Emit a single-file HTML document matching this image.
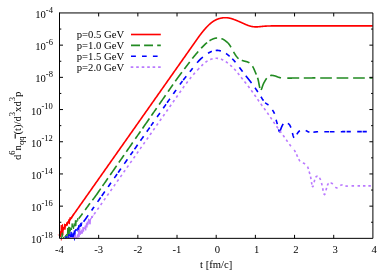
<!DOCTYPE html>
<html><head><meta charset="utf-8"><title>plot</title>
<style>html,body{margin:0;padding:0;background:#fff;}body{width:389px;height:273px;overflow:hidden;position:relative;font-family:"Liberation Serif",serif;}</style></head>
<body>
<svg width="389" height="273" viewBox="0 0 389 273" style="position:absolute;left:0;top:0">
<defs><clipPath id="c"><rect x="58.3" y="0" width="314.6" height="239.95"/></clipPath></defs>
<g clip-path="url(#c)" fill="none" stroke-width="1.62" stroke-linejoin="round">
<g stroke="#ff0000">
<path stroke-width="1.0" stroke-linejoin="miter" d="M59.62,235.45L60.21,231.23L60.64,236.93L61.25,225.11L61.92,235.27L62.47,224.36L62.79,235.29L63.36,227.07L63.87,229.11L64.53,223.82L64.96,229.69L65.64,224.12L66.24,226.05L66.68,222.52L67.35,225.45L67.88,221.53L68.26,223.29L68.97,219.35L69.43,224.15L70.02,217.48L70.54,219.79L71.21,217.11L71.68,218.49L72.15,216.06L72.81,216.07L73.43,214.01L73.84,214.3"/>
<path d="M60.6,232.99L61.1,232.28L61.6,231.57L62.1,230.86L62.6,230.15L63.1,229.44L63.6,228.73L64.1,228.02L64.6,227.31L65.1,226.6L65.6,225.89L66.1,225.18L66.6,224.47L67.1,223.76L67.6,223.05L68.1,222.34L68.6,221.63L69.1,220.92L69.6,220.21L70.1,219.5L70.6,218.79L71.1,218.08L71.6,217.37L72.1,216.66L72.6,215.95L73.1,215.24L73.6,214.53L74.1,213.82L74.6,213.11L75.1,212.4L75.6,211.69L76.1,210.98L76.6,210.27L77.1,209.56L77.6,208.85L78.1,208.14L78.6,207.43L79.1,206.72L79.6,206.01L80.1,205.3L80.6,204.59L81.1,203.88L81.6,203.17L82.1,202.46L82.6,201.75L83.1,201.04L83.6,200.33L84.1,199.62L84.6,198.91L85.1,198.2L85.6,197.49L86.1,196.78L86.6,196.07L87.1,195.36L87.6,194.65L88.1,193.94L88.6,193.23L89.1,192.52L89.6,191.81L90.1,191.1L90.6,190.39L91.1,189.68L91.6,188.97L92.1,188.26L92.6,187.55L93.1,186.84L93.6,186.13L94.1,185.42L94.6,184.71L95.1,184L95.6,183.29L96.1,182.58L96.6,181.87L97.1,181.16L97.6,180.45L98.1,179.74L98.6,179.03L99.1,178.32L99.6,177.61L100.1,176.9L100.6,176.19L101.1,175.48L101.6,174.77L102.1,174.06L102.6,173.35L103.1,172.64L103.6,171.93L104.1,171.22L104.6,170.51L105.1,169.8L105.6,169.09L106.1,168.38L106.6,167.67L107.1,166.96L107.6,166.25L108.1,165.54L108.6,164.83L109.1,164.12L109.6,163.41L110.1,162.7L110.6,161.99L111.1,161.28L111.6,160.57L112.1,159.86L112.6,159.15L113.1,158.44L113.6,157.73L114.1,157.02L114.6,156.31L115.1,155.6L115.6,154.89L116.1,154.18L116.6,153.47L117.1,152.76L117.6,152.05L118.1,151.34L118.6,150.63L119.1,149.92L119.6,149.21L120.1,148.5L120.6,147.79L121.1,147.08L121.6,146.37L122.1,145.66L122.6,144.95L123.1,144.24L123.6,143.53L124.1,142.82L124.6,142.11L125.1,141.4L125.6,140.69L126.1,139.98L126.6,139.27L127.1,138.56L127.6,137.85L128.1,137.14L128.6,136.43L129.1,135.72L129.6,135.01L130.1,134.3L130.6,133.59L131.1,132.88L131.6,132.17L132.1,131.46L132.6,130.75L133.1,130.04L133.6,129.33L134.1,128.62L134.6,127.91L135.1,127.2L135.6,126.49L136.1,125.78L136.6,125.07L137.1,124.36L137.6,123.65L138.1,122.94L138.6,122.23L139.1,121.52L139.6,120.81L140.1,120.1L140.6,119.39L141.1,118.68L141.6,117.97L142.1,117.26L142.6,116.55L143.1,115.84L143.6,115.13L144.1,114.42L144.6,113.71L145.1,113L145.6,112.29L146.1,111.58L146.6,110.87L147.1,110.16L147.6,109.45L148.1,108.74L148.6,108.03L149.1,107.32L149.6,106.61L150.1,105.9L150.6,105.19L151.1,104.48L151.6,103.77L152.1,103.06L152.6,102.35L153.1,101.64L153.6,100.93L154.1,100.22L154.6,99.51L155.1,98.8L155.6,98.09L156.1,97.38L156.6,96.67L157.1,95.96L157.6,95.25L158.1,94.54L158.6,93.83L159.1,93.12L159.6,92.41L160.1,91.7L160.6,90.99L161.1,90.28L161.6,89.57L162.1,88.86L162.6,88.15L163.1,87.44L163.6,86.73L164.1,86.02L164.6,85.31L165.1,84.6L165.6,83.89L166.1,83.18L166.6,82.47L167.1,81.76L167.6,81.05L168.1,80.34L168.6,79.63L169.1,78.92L169.6,78.21L170.1,77.5L170.6,76.79L171.1,76.08L171.6,75.37L172.1,74.66L172.6,73.95L173.1,73.24L173.6,72.53L174.1,71.82L174.6,71.11L175.1,70.4L175.6,69.69L176.1,68.98L176.6,68.27L177.1,67.56L177.6,66.85L178.1,66.14L178.6,65.43L179.1,64.72L179.6,64.01L180.1,63.3L180.6,62.59L181.1,61.88L181.6,61.17L182.1,60.46L182.6,59.75L183.1,59.04L183.6,58.33L184.1,57.62L184.6,56.91L185.1,56.2L185.6,55.49L186.1,54.78L186.6,54.07L187.1,53.36L187.6,52.65L188.1,51.94L188.6,51.23L189.1,50.52L189.6,49.81L190,49.24L190.25,48.89L190.5,48.53L190.75,48.18L191,47.82L191.25,47.47L191.5,47.11L191.75,46.76L192,46.4L192.25,46.05L192.5,45.69L192.75,45.34L193,44.98L193.25,44.63L193.5,44.27L193.75,43.92L194,43.56L194.25,43.21L194.5,42.85L194.75,42.5L195,42.14L195.25,41.79L195.5,41.43L195.75,41.08L196,40.72L196.25,40.37L196.5,40.01L196.75,39.65L197,39.3L197.25,38.95L197.5,38.59L197.75,38.24L198,37.89L198.25,37.54L198.5,37.19L198.75,36.84L199,36.5L199.25,36.15L199.5,35.81L199.75,35.47L200,35.13L200.25,34.8L200.5,34.47L200.75,34.14L201,33.81L201.25,33.49L201.5,33.17L201.75,32.85L202,32.53L202.25,32.22L202.5,31.91L202.75,31.6L203,31.29L203.25,30.99L203.5,30.69L203.75,30.39L204,30.1L204.25,29.8L204.5,29.51L204.75,29.23L205,28.94L205.25,28.66L205.5,28.38L205.75,28.1L206,27.82L206.25,27.55L206.5,27.28L206.75,27.01L207,26.75L207.25,26.49L207.5,26.23L207.75,25.97L208,25.72L208.25,25.48L208.5,25.23L208.75,24.99L209,24.75L209.25,24.52L209.5,24.29L209.75,24.07L210,23.85L210.25,23.63L210.5,23.42L210.75,23.21L211,23L211.25,22.8L211.5,22.61L211.75,22.42L212,22.23L212.25,22.05L212.5,21.87L212.75,21.69L213,21.52L213.25,21.36L213.5,21.2L213.75,21.04L214,20.89L214.25,20.74L214.5,20.59L214.75,20.45L215,20.31L215.25,20.18L215.5,20.05L215.75,19.93L216,19.8L216.25,19.69L216.5,19.57L216.75,19.46L217,19.36L217.25,19.26L217.5,19.16L217.75,19.06L218,18.97L218.25,18.89L218.5,18.8L218.75,18.72L219,18.64L219.25,18.57L219.5,18.5L219.75,18.43L220,18.37L220.25,18.3L220.5,18.24L220.75,18.19L221,18.14L221.25,18.09L221.5,18.04L221.75,17.99L222,17.95L222.25,17.92L222.5,17.88L222.75,17.85L223,17.82L223.25,17.79L223.5,17.77L223.75,17.75L224,17.73L224.25,17.72L224.5,17.71L224.75,17.7L225,17.69L225.25,17.69L225.5,17.69L225.75,17.7L226,17.71L226.25,17.72L226.5,17.73L226.75,17.75L227,17.77L227.25,17.79L227.5,17.82L227.75,17.85L228,17.88L228.25,17.92L228.5,17.96L228.75,18L229,18.04L229.25,18.09L229.5,18.14L229.75,18.19L230,18.25L230.25,18.31L230.5,18.37L230.75,18.43L231,18.5L231.25,18.57L231.5,18.64L231.75,18.72L232,18.79L232.25,18.87L232.5,18.95L232.75,19.04L233,19.12L233.25,19.21L233.5,19.3L233.75,19.39L234,19.48L234.25,19.58L234.5,19.67L234.75,19.77L235,19.86L235.25,19.96L235.5,20.06L235.75,20.16L236,20.26L236.25,20.36L236.5,20.46L236.75,20.56L237,20.66L237.25,20.77L237.5,20.87L237.75,20.97L238,21.08L238.25,21.18L238.5,21.29L238.75,21.39L239,21.5L239.25,21.6L239.5,21.71L239.75,21.82L240,21.93L240.25,22.04L240.5,22.15L240.75,22.26L241,22.37L241.25,22.48L241.5,22.59L241.75,22.7L242,22.82L242.25,22.93L242.5,23.04L242.75,23.16L243,23.27L243.25,23.39L243.5,23.5L243.75,23.61L244,23.73L244.25,23.84L244.5,23.95L244.75,24.06L245,24.17L245.25,24.28L245.5,24.39L245.75,24.5L246,24.61L246.25,24.71L246.5,24.82L246.75,24.92L247,25.02L247.25,25.12L247.5,25.22L247.75,25.31L248,25.41L248.25,25.5L248.5,25.59L248.75,25.67L249,25.76L249.25,25.84L249.5,25.92L249.75,25.99L250,26.06L250.25,26.13L250.5,26.2L250.75,26.26L251,26.32L251.25,26.38L251.5,26.43L251.75,26.48L252,26.53L252.25,26.57L252.5,26.61L252.75,26.64L253,26.68L253.25,26.71L253.5,26.74L253.75,26.76L254,26.78L254.25,26.8L254.5,26.82L254.75,26.83L255,26.85L255.25,26.85L255.5,26.86L255.75,26.86L256,26.87L256.25,26.86L256.5,26.86L256.75,26.86L257,26.85L257.25,26.84L257.5,26.83L257.75,26.82L258,26.8L258.25,26.78L258.5,26.76L258.75,26.74L259,26.72L259.25,26.7L259.5,26.68L259.75,26.65L260,26.63L260.25,26.6L260.5,26.58L260.75,26.55L261,26.52L261.25,26.5L261.5,26.47L261.75,26.44L262,26.42L262.25,26.4L262.5,26.37L262.75,26.35L263,26.32L263.25,26.3L263.5,26.28L263.75,26.26L264,26.24L264.25,26.22L264.5,26.2L264.75,26.18L265,26.16L265.25,26.15L265.5,26.13L265.75,26.11L266,26.1L266.25,26.09L266.5,26.07L266.75,26.06L267,26.05L267.25,26.04L267.5,26.03L267.75,26.02L268,26.01L268.25,26L268.5,25.99L268.75,25.98L269,25.98L269.25,25.97L269.5,25.96L269.75,25.96L270,25.95L270.25,25.94L270.5,25.94L270.75,25.93L271,25.93L271.25,25.93L271.5,25.92L271.75,25.92L272,25.92L272.25,25.91L272.5,25.91L272.75,25.91L273,25.91L273.25,25.9L273.5,25.9L273.75,25.9L274,25.9L274.25,25.9L274.5,25.9L274.75,25.89L275,25.89L275.25,25.89L275.5,25.89L275.75,25.89L276,25.89L276.25,25.89L276.5,25.89L276.75,25.89L277,25.89L277.25,25.89L277.5,25.89L277.75,25.89L278,25.89L278.25,25.9L278.5,25.9L278.75,25.9L279,25.9L279.25,25.9L279.5,25.9L279.75,25.9L280,25.9L280.25,25.9L280.5,25.9L280.75,25.9L281,25.9L281.25,25.9L281.5,25.9L281.75,25.9L282,25.9L282.25,25.9L282.5,25.91L282.75,25.91L283,25.91L283.25,25.91L283.5,25.91L283.75,25.91L284,25.91L284.25,25.91L284.5,25.91L284.75,25.91L285,25.91L285.25,25.91L285.5,25.91L285.75,25.91L286,25.91L286.25,25.91L286.5,25.91L286.75,25.91L287,25.91L287.25,25.91L287.5,25.91L287.75,25.91L288,25.91L288.25,25.91L288.5,25.91L288.75,25.91L289,25.91L289.25,25.91L289.5,25.91L289.75,25.91L290,25.91L290.25,25.91L290.5,25.91L290.75,25.91L291,25.91L291.25,25.91L291.5,25.91L291.75,25.91L292,25.91L292.25,25.91L292.5,25.91L292.75,25.91L293,25.91L293.25,25.91L293.5,25.91L293.75,25.91L294,25.91L294.25,25.91L294.5,25.91L294.75,25.91L295,25.9L295.25,25.9L295.5,25.9L295.75,25.9L296,25.9L296.25,25.9L296.5,25.9L296.75,25.9L297,25.9L297.25,25.9L297.5,25.9L297.75,25.9L298,25.9L298.25,25.9L298.5,25.9L298.75,25.9L299,25.9L299.25,25.9L299.5,25.9L299.75,25.9L300,25.9L300.25,25.9L300.5,25.9L300.75,25.9L301,25.9L301.25,25.9L301.5,25.9L301.75,25.9L302,25.9L302.25,25.9L302.5,25.9L302.75,25.9L303,25.9L303.25,25.9L303.5,25.9L303.75,25.9L304,25.9L304.25,25.9L304.5,25.9L304.75,25.9L305,25.9L305.25,25.9L305.5,25.9L305.75,25.9L306,25.9L306.25,25.9L306.5,25.9L306.75,25.9L307,25.9L307.25,25.9L307.5,25.9L307.75,25.9L308,25.9L308.25,25.9L308.5,25.9L308.75,25.89L309,25.89L309.25,25.89L309.5,25.89L309.75,25.89L310,25.89L310.25,25.89L310.5,25.89L310.75,25.89L311,25.89L311.25,25.89L311.5,25.89L311.75,25.89L312,25.89L312.25,25.89L312.5,25.89L312.75,25.89L313,25.89L313.25,25.89L313.5,25.89L313.75,25.89L314,25.89L314.25,25.89L314.5,25.89L314.75,25.89L315,25.89L315.25,25.89L315.5,25.89L315.75,25.89L316,25.89L316.25,25.89L316.5,25.89L316.75,25.89L317,25.89L317.25,25.89L317.5,25.89L317.75,25.89L318,25.89L318.25,25.89L318.5,25.89L318.75,25.89L319,25.89L319.25,25.89L319.5,25.89L319.75,25.89L320,25.89L320.25,25.89L320.5,25.89L320.75,25.89L321,25.89L321.25,25.89L321.5,25.89L321.75,25.89L322,25.89L322.25,25.89L322.5,25.89L322.75,25.9L323,25.9L323.25,25.9L323.5,25.9L323.75,25.9L324,25.9L324.25,25.9L324.5,25.9L324.75,25.9L325,25.9L325.25,25.9L325.5,25.9L325.75,25.9L326,25.9L326.25,25.9L326.5,25.9L326.75,25.9L327,25.9L327.25,25.9L327.5,25.9L327.75,25.9L328,25.9L328.25,25.9L328.5,25.9L328.75,25.9L329,25.9L329.25,25.9L329.5,25.9L329.75,25.9L330,25.9L330.25,25.9L330.5,25.9L330.75,25.9L331,25.9L331.25,25.9L331.5,25.9L331.75,25.9L332,25.9L332.25,25.9L332.5,25.9L332.75,25.9L333,25.9L333.25,25.9L333.5,25.9L333.75,25.9L334,25.9L334.25,25.9L334.5,25.9L334.75,25.9L335,25.9L335.25,25.9L335.5,25.9L335.75,25.9L336,25.9L336.25,25.9L336.5,25.9L336.75,25.9L337,25.9L337.25,25.9L337.5,25.9L337.75,25.9L338,25.9L338.25,25.9L338.5,25.9L338.75,25.9L339,25.9L339.25,25.9L339.5,25.9L339.75,25.9L340,25.9L340.25,25.9L340.5,25.9L340.75,25.9L341,25.9L341.25,25.9L341.5,25.9L341.75,25.9L342,25.9L342.25,25.9L342.5,25.9L342.75,25.9L343,25.9L343.25,25.9L343.5,25.9L343.75,25.9L344,25.9L344.25,25.9L344.5,25.9L344.75,25.9L345,25.9L345.25,25.9L345.5,25.9L345.75,25.9L346,25.9L346.25,25.9L346.5,25.9L346.75,25.9L347,25.9L347.25,25.9L347.5,25.9L347.75,25.9L348,25.9L348.25,25.9L348.5,25.9L348.75,25.9L349,25.9L349.25,25.9L349.5,25.9L349.75,25.9L350,25.9L350.25,25.9L350.5,25.9L350.75,25.9L351,25.9L351.25,25.9L351.5,25.9L351.75,25.9L352,25.9L352.25,25.9L352.5,25.9L352.75,25.9L353,25.9L353.25,25.9L353.5,25.9L353.75,25.9L354,25.9L354.25,25.9L354.5,25.9L354.75,25.9L355,25.9L355.25,25.9L355.5,25.9L355.75,25.9L356,25.9L356.25,25.9L356.5,25.9L356.75,25.9L357,25.9L357.25,25.9L357.5,25.9L357.75,25.9L358,25.9L358.25,25.9L358.5,25.9L358.75,25.9L359,25.9L359.25,25.9L359.5,25.9L359.75,25.9L360,25.9L360.25,25.9L360.5,25.9L360.75,25.9L361,25.9L361.25,25.9L361.5,25.9L361.75,25.9L362,25.9L362.25,25.9L362.5,25.9L362.75,25.9L363,25.9L363.25,25.9L363.5,25.9L363.75,25.9L364,25.9L364.25,25.9L364.5,25.9L364.75,25.9L365,25.9L365.25,25.9L365.5,25.9L365.75,25.9L366,25.9L366.25,25.9L366.5,25.9L366.75,25.9L367,25.9L367.25,25.9L367.5,25.9L367.75,25.9L368,25.9L368.25,25.9L368.5,25.9L368.75,25.9L369,25.9L369.25,25.9L369.5,25.9L369.75,25.9L370,25.9L370.25,25.9L370.5,25.9L370.75,25.9L371,25.9L371.25,25.9L371.5,25.9L371.75,25.9L372,25.9L372.25,25.9L372.5,25.9L372.75,25.9"/>
</g>
<g stroke="#228b22">
<path stroke-width="1.0" stroke-linejoin="miter" d="M60.4,236.84L60.91,237.51L61.59,237.68L62.22,232.78L62.68,236.7L63.25,237.14L63.65,237.98L64.35,237.05L65.03,236.26L65.56,235.38L66.07,237.2L66.43,234.18L67.22,235.56L67.76,228.01L68.1,237.51L68.79,226.8L69.16,234.35L69.74,227.02L70.34,231.39L70.85,227.99L71.58,229.99L72.15,223.54L72.55,227.25L73.1,225.5L73.58,228.85L74.13,223.53L74.86,226.4L75.38,220.36L75.77,225.99L76.44,220.57L76.97,221.79L77.65,218.37L78.17,220.41"/>
<path d="M78.7,218.68L79.2,218.02L79.7,217.36L80.2,216.7L80.7,216.04L81.2,215.37L81.7,214.7L82.2,214.02L82.6,213.48M85.1,210.03L85.2,209.89L85.7,209.19L86.2,208.5L86.7,207.8L87.2,207.11L87.7,206.41L88.2,205.72L88.7,205.03L89.2,204.35L89.7,203.67L90,203.27M92.45,200.16L92.7,199.85L93.2,199.21L93.7,198.56L94.2,197.88L94.7,197.2L95.2,196.51L95.7,195.82L96.2,195.12L96.7,194.41L97.2,193.7L97.7,192.98L98.2,192.26L98.7,191.54L99.2,190.82L99.7,190.1L100.2,189.38L100.7,188.66M102.5,186.06L102.7,185.78L103.2,185.06L103.7,184.34L104.2,183.62L104.7,182.9L105.2,182.18L105.7,181.46L106.2,180.74L106.7,180.02L107.2,179.3L107.7,178.58L107.9,178.29M110.2,174.98L110.7,174.26L111.2,173.54L111.7,172.82L112.2,172.1L112.7,171.38L113.2,170.66L113.7,169.94L114.2,169.22L114.7,168.5L115.2,167.78L115.7,167.06L116.2,166.34L116.6,165.76M118.8,162.59L119.2,162.02L119.7,161.3L120.2,160.58L120.7,159.86L121.2,159.14L121.7,158.42L122.2,157.7L122.7,156.98L123.2,156.26L123.7,155.54L124,155.1M126.3,151.79L126.7,151.22L127.2,150.5L127.7,149.78L128.2,149.06L128.7,148.34L129.2,147.62L129.7,146.9L130.2,146.18L130.7,145.46L131.2,144.74L131.7,144.02L132.2,143.3L132.7,142.58M135.3,138.83L135.7,138.26L136.2,137.54L136.7,136.82L137.2,136.1L137.7,135.38L138.2,134.66L138.7,133.94L139.2,133.22L139.7,132.5L140.2,131.78L140.5,131.34M142.5,128.46L142.7,128.18L143.2,127.46L143.7,126.74L144.2,126.02L144.7,125.3L145.2,124.58L145.7,123.86L146.2,123.14L146.7,122.42L147.2,121.7L147.7,120.98L148.2,120.26L148.7,119.54L149.2,118.82L149.4,118.53M151.4,115.65L151.7,115.22L152.2,114.5L152.7,113.78L153.2,113.06L153.7,112.34L154.2,111.62L154.7,110.9L155.2,110.18L155.7,109.46L156.2,108.74L156.6,108.16M159.1,104.56L159.2,104.42L159.7,103.7L160.2,102.98L160.7,102.26L161.2,101.54L161.7,100.82L162.2,100.1L162.7,99.38L163.2,98.66L163.7,97.94L164.2,97.22L164.7,96.5L165.2,95.78L165.6,95.2M168.1,91.6L168.2,91.46L168.7,90.74L169.2,90.02L169.7,89.3L170,88.86L170.25,88.5L170.5,88.14L170.75,87.77L171,87.41L171.25,87.05L171.5,86.68L171.75,86.32L172,85.96L172.25,85.59L172.5,85.23L172.75,84.87L173,84.51M175.3,81.21L175.5,80.93L175.75,80.58L176,80.22L176.25,79.87L176.5,79.53L176.75,79.18L177,78.83L177.25,78.49L177.5,78.14L177.75,77.8L178,77.46L178.25,77.12L178.5,76.78L178.75,76.44L179,76.1L179.25,75.77L179.5,75.43L179.75,75.09L180,74.76L180.25,74.43L180.5,74.09L180.75,73.76L181,73.43L181.25,73.1L181.5,72.77L181.75,72.43L181.9,72.24M184.4,68.95L184.5,68.82L184.75,68.49L185,68.16L185.25,67.83L185.5,67.51L185.75,67.18L186,66.85L186.25,66.52L186.5,66.19L186.75,65.86L187,65.53L187.25,65.2L187.5,64.87L187.75,64.54L188,64.21L188.25,63.88L188.5,63.55L188.75,63.22L189,62.89L189.25,62.56L189.5,62.23L189.7,61.96M192.3,58.6L192.5,58.35L192.75,58.03L193,57.72L193.25,57.41L193.5,57.1L193.75,56.8L194,56.49L194.25,56.19L194.5,55.89L194.75,55.59L195,55.29L195.25,54.99L195.5,54.69L195.75,54.4L196,54.1L196.25,53.81L196.5,53.52L196.75,53.23L197,52.94L197.25,52.65L197.5,52.36L197.75,52.08L198,51.79L198.2,51.57M201.2,48.23L201.25,48.18L201.5,47.91L201.75,47.64L202,47.38L202.25,47.11L202.5,46.85L202.75,46.59L203,46.34L203.25,46.08L203.5,45.83L203.75,45.58L204,45.34L204.25,45.09L204.5,44.85L204.75,44.61L205,44.38L205.25,44.15L205.5,43.92L205.75,43.69L206,43.47L206.25,43.25L206.5,43.03L206.75,42.82L207,42.61L207.1,42.53M209.5,40.76L209.75,40.6L210,40.44L210.25,40.29L210.5,40.14L210.75,40L211,39.86L211.25,39.73L211.5,39.61L211.75,39.49L212,39.37L212.25,39.26L212.5,39.15L212.75,39.05L213,38.95L213.25,38.86L213.5,38.77L213.75,38.68L214,38.6L214.25,38.52L214.5,38.45L214.75,38.38L215,38.32L215.25,38.26L215.5,38.21L215.75,38.16L216,38.12L216.25,38.09L216.5,38.06L216.75,38.03L217,38.01L217.1,38.01M221.4,38.63L221.5,38.66L221.75,38.74L222,38.83L222.25,38.92L222.5,39.02L222.75,39.13L223,39.25L223.25,39.37L223.5,39.51L223.75,39.66L224,39.82L224.25,39.98L224.5,40.16L224.75,40.34L225,40.52L225.25,40.71L225.5,40.91L225.75,41.1L226,41.3L226.25,41.5L226.5,41.7L226.75,41.9L227,42.11L227.25,42.33L227.5,42.55L227.75,42.79L228,43.04L228.25,43.3L228.5,43.57L228.75,43.86L229,44.17L229.25,44.5L229.5,44.85L229.75,45.21L230,45.6L230.25,45.99L230.5,46.4L230.75,46.82L231,47.26M233.5,51.78L233.75,52.22L234,52.65L234.25,53.07L234.5,53.49L234.75,53.89L235,54.29L235.25,54.68L235.5,55.05L235.75,55.42L236,55.77L236.25,56.11L236.5,56.44L236.75,56.75L237,57.05L237.25,57.33L237.5,57.6L237.75,57.85L238,58.09L238.25,58.31L238.5,58.52L238.6,58.6M241.8,60.34L242,60.41L242.25,60.5L242.5,60.58L242.75,60.66L243,60.74L243.25,60.82L243.5,60.89L243.75,60.96L244,61.03L244.25,61.09L244.5,61.16L244.75,61.22L245,61.28L245.25,61.34L245.5,61.4L245.75,61.46L246,61.52L246.25,61.58L246.5,61.64L246.75,61.7L247,61.78L247.25,61.85L247.5,61.94L247.75,62.03L248,62.13L248.25,62.25L248.5,62.37L248.75,62.51L249,62.67L249.25,62.84L249.4,62.95M252.5,66.29L252.75,66.67L253,67.07L253.25,67.52L253.5,68L253.75,68.52L254,69.07L254.25,69.64L254.5,70.24L254.75,70.84L255,71.45L255.25,72.06L255.5,72.67L255.75,73.26L256,73.82L256.25,74.38L256.3,74.49M257.6,77.79L257.75,78.27L258,79.19L258.25,80.22L258.5,81.38L258.75,82.67L259,84.02L259.25,85.37L259.5,86.65L259.75,87.81L259.8,88M261,89.89L261.25,89.54L261.5,89.04L261.75,88.41L262,87.69L262.25,86.94L262.5,86.19L262.75,85.48L263,84.83L263.25,84.24L263.5,83.68L263.75,83.17L264,82.68L264.25,82.22L264.5,81.78L264.75,81.34L265,80.91L265.25,80.49L265.5,80.09L265.75,79.69L266,79.3L266.25,78.93L266.5,78.57L266.7,78.3M270.1,75.59L270.25,75.55L270.5,75.5L270.75,75.46L271,75.43L271.25,75.41L271.5,75.4L271.75,75.4L272,75.41L272.25,75.42L272.5,75.44L272.75,75.47L273,75.5L273.25,75.54L273.5,75.58L273.75,75.63L274,75.68L274.25,75.74L274.5,75.8L274.75,75.87L275,75.94L275.25,76.02L275.5,76.1L275.75,76.19L276,76.28L276.25,76.37L276.5,76.47L276.75,76.57L277,76.67L277.25,76.77L277.5,76.87L277.75,76.96L278,77.06L278.25,77.15L278.5,77.23L278.75,77.32L279,77.39L279.25,77.47L279.5,77.53L279.75,77.6L280,77.66L280.25,77.71L280.5,77.76L280.75,77.81L281,77.85M287.3,78.15L287.5,78.15L287.75,78.14L288,78.14L288.25,78.13L288.5,78.13L288.75,78.12L289,78.12L289.25,78.11L289.5,78.11L289.75,78.1L290,78.1L290.25,78.1L290.5,78.09L290.75,78.09L291,78.08L291.25,78.08L291.5,78.07L291.75,78.07L292,78.06L292.25,78.06L292.5,78.06L292.75,78.05L293,78.05L293.25,78.04L293.5,78.04L293.75,78.04L294,78.03L294.25,78.03L294.5,78.03L294.75,78.02L295,78.02L295.25,78.02L295.5,78.02L295.75,78.01L296,78.01L296.25,78.01L296.5,78.01L296.75,78L297,78L297.25,78L297.5,78L297.75,77.99L298,77.99L298.25,77.99L298.5,77.99L298.75,77.98L299,77.98L299.2,77.98M303.8,77.95L304,77.95L304.25,77.95L304.5,77.95L304.75,77.95L305,77.95L305.25,77.95L305.5,77.95L305.75,77.95L306,77.95L306.25,77.95L306.5,77.95L306.75,77.94L307,77.94L307.25,77.94L307.5,77.94L307.75,77.94L308,77.94L308.25,77.94L308.5,77.94L308.75,77.94L309,77.94L309.25,77.94L309.5,77.94L309.75,77.94L310,77.94L310.25,77.94L310.5,77.94L310.75,77.94L311,77.94L311.25,77.94L311.5,77.94L311.75,77.94L312,77.94L312.25,77.94L312.5,77.93L312.75,77.93L313,77.93L313.25,77.93L313.5,77.93L313.75,77.93L314,77.93L314.25,77.93L314.5,77.93L314.75,77.93L315,77.93L315.25,77.93L315.4,77.93M320.2,77.94L320.25,77.94L320.5,77.94L320.75,77.94L321,77.94L321.25,77.94L321.5,77.94L321.75,77.94L322,77.94L322.25,77.94L322.5,77.94L322.75,77.94L323,77.94L323.25,77.94L323.5,77.94L323.75,77.94L324,77.94L324.25,77.94L324.5,77.94L324.75,77.94L325,77.94L325.25,77.94L325.5,77.94L325.75,77.94L326,77.94L326.25,77.94L326.5,77.95L326.75,77.95L327,77.95L327.25,77.95L327.5,77.95L327.75,77.95L328,77.95L328.25,77.95L328.5,77.95L328.75,77.95L329,77.95L329.25,77.95L329.5,77.95L329.75,77.95L330,77.95L330.25,77.95L330.5,77.95L330.75,77.95L331,77.95L331.25,77.95L331.5,77.95L331.75,77.95L331.9,77.95M336.6,77.96L336.75,77.96L337,77.96L337.25,77.96L337.5,77.96L337.75,77.96L338,77.96L338.25,77.96L338.5,77.96L338.75,77.96L339,77.96L339.25,77.96L339.5,77.96L339.75,77.96L340,77.96L340.25,77.96L340.5,77.96L340.75,77.96L341,77.96L341.25,77.96L341.5,77.96L341.75,77.96L342,77.96L342.25,77.96L342.5,77.96L342.75,77.96L343,77.96L343.25,77.96L343.5,77.96L343.75,77.96L344,77.96L344.25,77.96L344.5,77.96L344.75,77.96L345,77.96L345.25,77.96L345.5,77.96L345.75,77.96L346,77.96L346.25,77.96L346.5,77.96L346.75,77.96L347,77.96L347.25,77.96L347.5,77.96L347.75,77.96L348,77.96L348.25,77.96L348.3,77.96M353.1,77.96L353.25,77.96L353.5,77.96L353.75,77.96L354,77.96L354.25,77.96L354.5,77.96L354.75,77.96L355,77.96L355.25,77.96L355.5,77.96L355.75,77.96L356,77.96L356.25,77.96L356.5,77.96L356.75,77.96L357,77.96L357.25,77.96L357.5,77.96L357.75,77.96L358,77.96L358.25,77.96L358.5,77.96L358.75,77.96L359,77.96L359.25,77.96L359.5,77.96L359.75,77.96L360,77.96L360.25,77.96L360.5,77.96L360.75,77.96L361,77.96L361.25,77.96L361.5,77.96L361.75,77.96L362,77.96L362.25,77.96L362.5,77.96L362.75,77.96L363,77.96L363.25,77.96L363.5,77.96L363.75,77.96L364,77.96L364.25,77.96L364.5,77.96L364.75,77.95L364.8,77.95M369.5,77.95L369.75,77.95L370,77.95L370.25,77.95L370.5,77.95L370.75,77.95L371,77.95L371.25,77.95L371.5,77.95L371.75,77.95L372,77.95L372.25,77.95L372.5,77.95L372.75,77.95"/>
</g>
<g stroke="#0000ff">
<path stroke-width="1.0" stroke-linejoin="miter" d="M64.92,237.75L65.66,238.03L66.01,236.45L66.78,237.88L67.2,236.58L67.78,237.32L68.38,237.46L68.86,234.25L69.34,238.02L69.86,234.37L70.37,237.36L71.12,231.9L71.58,237.1L72.05,233.74L72.81,237.86L73.18,232.63L73.77,237.47L74.29,230.51L74.94,235.46L75.47,229.36L76.03,230.96L76.48,229.43L77.04,229.77L77.58,227.74L78.15,231.56L78.64,225.33L79.2,229.27L79.99,224.33L80.54,226.63L80.86,222.92L81.36,226.16L81.96,222.29"/>
<path d="M83.6,221.68L84.1,221.02L84.6,220.36L85.1,219.67L85.6,218.97L86.1,218.26L86.6,217.54L87.1,216.83L87.6,216.12L88.1,215.4L88.2,215.26M91.6,210.41L92.1,209.7L92.6,208.99L93.1,208.27L93.6,207.56L94.1,206.85M97.6,201.86L98.1,201.14L98.6,200.43L99.1,199.72L99.6,199L100.1,198.29L100.6,197.58L100.7,197.44M101.7,196.01L102.1,195.44L102.6,194.73L103.1,194.01L103.6,193.3L104.1,192.59L104.6,191.87L104.8,191.59M108.1,186.88L108.6,186.17L109.1,185.46L109.6,184.74L110.1,184.03L110.6,183.32L111,182.75M114.3,178.04L114.6,177.61L115.1,176.9L115.6,176.19L116.1,175.48L116.6,174.76L117.1,174.05M118.1,172.62L118.6,171.91L119.1,171.2L119.6,170.48L120.1,169.77L120.6,169.06L120.9,168.63M124.3,163.78L124.6,163.35L125.1,162.64L125.6,161.93L126.1,161.22L126.6,160.5L127.1,159.79L127.4,159.36M130.4,155.08L130.6,154.8L131.1,154.09L131.6,153.37L132.1,152.66L132.6,151.95L133,151.38M134.5,149.24L134.6,149.09L135.1,148.38L135.6,147.67L136.1,146.96L136.6,146.24L137.1,145.53L137.6,144.82M140.5,140.68L140.6,140.54L141.1,139.83L141.6,139.11L142.1,138.4L142.6,137.69L143.1,136.97L143.6,136.26M146.8,131.7L147.1,131.27L147.6,130.56L148.1,129.84L148.6,129.13L149.1,128.42L149.6,127.7L149.7,127.56M151,125.71L151.1,125.57L151.6,124.85L152.1,124.14L152.6,123.43L153.1,122.71L153.5,122.14M157.1,117.01L157.6,116.3L158.1,115.58L158.6,114.87L159.1,114.16L159.6,113.44L159.9,113.02M163.2,108.31L163.6,107.74L164.1,107.03L164.6,106.31L165.1,105.6L165.6,104.89L166,104.32M167.1,102.75L167.6,102.04L168.1,101.32L168.6,100.61L169.1,99.9L169.6,99.18L169.9,98.76M173.3,93.91L173.6,93.48L174,92.91L174.25,92.55L174.5,92.19L174.75,91.83L175,91.46L175.25,91.1L175.5,90.74L175.75,90.38L176,90.02L176.05,89.94M179.9,84.49L180,84.35L180.25,84.01L180.5,83.67L180.75,83.34L181,83L181.25,82.67L181.5,82.34L181.75,82.01L182,81.68L182.25,81.36L182.5,81.03M183.2,80.13L183.25,80.07L183.5,79.75L183.75,79.43L184,79.11L184.25,78.79L184.5,78.48L184.75,78.16L185,77.85L185.25,77.54L185.5,77.23L185.75,76.91L186,76.6L186.25,76.29L186.3,76.23M189.9,71.76L190,71.64L190.25,71.32L190.5,71.01L190.75,70.7L191,70.38L191.25,70.06L191.5,69.75L191.75,69.43L192,69.11L192.25,68.79L192.5,68.47L192.7,68.21M197.1,62.74L197.25,62.56L197.5,62.27L197.75,61.99L198,61.71L198.25,61.43L198.5,61.15L198.75,60.88L199,60.62L199.25,60.36L199.5,60.1L199.75,59.85L200,59.6L200.25,59.36L200.5,59.12L200.75,58.89L201,58.66L201.25,58.43L201.5,58.21L201.75,58L202,57.78L202.25,57.57L202.5,57.36L202.75,57.15L202.9,57.03M208,53.28L208.25,53.13L208.5,52.97L208.75,52.82L209,52.68L209.25,52.54L209.5,52.4L209.75,52.28L210,52.15L210.25,52.03L210.5,51.92L210.75,51.81L211,51.71L211.25,51.61L211.5,51.52L211.75,51.43L211.9,51.38M215.7,50.5L215.75,50.49L216,50.46L216.25,50.44L216.5,50.42L216.75,50.41L217,50.4L217.25,50.39L217.5,50.4L217.75,50.41L218,50.42L218.25,50.44L218.5,50.47L218.75,50.5L219,50.54L219.25,50.58L219.5,50.62L219.75,50.68L220,50.73L220.25,50.79L220.5,50.86L220.75,50.93L220.9,50.97M226,53.47L226.25,53.65L226.5,53.83L226.75,54.02L227,54.2L227.25,54.4L227.5,54.59L227.75,54.78L228,54.98L228.25,55.18L228.5,55.37L228.75,55.58L229,55.78L229.25,55.98L229.5,56.19L229.6,56.27M232.3,58.75L232.5,58.95L232.75,59.21L233,59.47L233.25,59.74L233.5,60.01L233.75,60.28L234,60.56L234.25,60.84L234.5,61.13L234.75,61.42L235,61.72L235.25,62.02L235.5,62.32M239.4,67.37L239.5,67.5L239.75,67.83L240,68.17L240.25,68.5L240.5,68.83L240.75,69.17L241,69.5L241.25,69.83L241.5,70.16L241.75,70.49L242,70.83L242.25,71.16L242.5,71.49L242.6,71.62M245.8,75.77L246,76.03L246.25,76.34L246.5,76.66L246.75,76.97L247,77.29L247.25,77.6L247.5,77.91L247.75,78.22L248,78.54L248.25,78.85L248.5,79.16L248.75,79.47L249,79.79L249.25,80.1L249.5,80.41L249.75,80.73L250,81.05L250.25,81.37L250.5,81.69L250.75,82.01L251,82.33L251.25,82.65L251.5,82.98L251.6,83.11M255,87.77L255.25,88.13L255.5,88.49L255.75,88.85L256,89.21L256.25,89.58L256.5,89.95L256.75,90.32L257,90.7L257.25,91.07L257.5,91.45L257.75,91.83L257.9,92.06M260.9,96.74L261,96.9L261.25,97.29L261.5,97.68L261.75,98.06L262,98.45L262.25,98.82L262.5,99.2L262.75,99.56L263,99.92L263.25,100.27L263.5,100.61M265.2,102.6L265.25,102.65L265.5,102.88L265.75,103.09L266,103.29L266.25,103.48L266.5,103.66L266.75,103.83L267,104L267.25,104.16L267.5,104.33L267.75,104.49L268,104.65L268.25,104.82L268.5,104.99M272.4,110L272.5,110.15L272.75,110.51L273,110.86L273.25,111.22L273.5,111.6L273.75,112.04L274,112.53L274.25,113.12L274.5,113.8M276.1,119.79L276.25,120.35L276.5,121.25L276.75,122.12L277,123L277.25,123.91L277.3,124.1M278.6,129.41L278.75,130L279,130.83L279.25,131.41L279.5,131.65L279.75,131.54L280,131.15L280.25,130.59L280.5,129.93L280.75,129.26L281,128.57L281.25,127.9L281.5,127.25L281.75,126.64L282,126.08L282.25,125.56L282.5,125.07L282.75,124.63L283,124.21L283.2,123.9M287.9,123.3L288,123.38L288.25,123.58L288.5,123.78L288.75,123.99L289,124.23L289.25,124.49L289.5,124.79L289.75,125.14L290,125.54L290.25,126.01L290.5,126.56L290.75,127.18L290.9,127.61M292.4,133L292.5,133.38L292.75,134.31L293,135.2L293.25,136.01L293.5,136.74L293.75,137.36L294,137.84M296.9,134.3L297,134.11L297.25,133.66L297.5,133.24L297.75,132.85L298,132.49L298.25,132.16L298.5,131.86L298.75,131.58L299,131.33L299.25,131.1L299.5,130.89L299.75,130.7L299.9,130.6M305.7,130.5L305.75,130.52L306,130.64L306.25,130.77L306.5,130.9L306.75,131.02L307,131.15L307.25,131.28L307.5,131.41L307.75,131.54L308,131.66L308.25,131.77L308.5,131.88L308.75,131.98L309,132.07L309.25,132.16L309.4,132.2M313.4,132.24L313.5,132.23L313.75,132.19L314,132.15L314.25,132.11L314.5,132.07L314.75,132.04L315,132L315.25,131.97L315.5,131.93L315.75,131.9L316,131.87L316.25,131.84L316.5,131.82L316.75,131.79L317,131.77L317.25,131.75L317.5,131.73L317.75,131.72L318,131.7L318.1,131.69M324.3,131.68L324.5,131.69L324.75,131.69L325,131.7L325.25,131.71L325.5,131.71L325.75,131.71L326,131.72L326.25,131.72L326.5,131.73L326.75,131.73L327,131.73L327.25,131.74L327.5,131.74L327.75,131.74L328,131.74L328.25,131.75L328.5,131.75L328.75,131.75L329,131.75M329.8,131.76L330,131.76L330.25,131.76L330.5,131.76L330.75,131.76L331,131.76L331.25,131.76L331.5,131.76L331.75,131.76L332,131.76L332.25,131.76L332.5,131.75L332.75,131.75L333,131.75L333.25,131.75L333.5,131.75L333.75,131.75L334,131.75L334.25,131.75L334.5,131.74M340.8,131.69L341,131.69L341.25,131.69L341.5,131.69L341.75,131.69L342,131.69L342.25,131.68L342.5,131.68L342.75,131.68L343,131.68L343.25,131.68L343.5,131.68L343.75,131.68L344,131.67L344.25,131.67L344.5,131.67L344.75,131.67L345,131.67L345.25,131.67L345.3,131.67M346.6,131.66L346.75,131.66L347,131.66L347.25,131.66L347.5,131.66L347.75,131.66L348,131.66L348.25,131.66L348.5,131.66L348.75,131.66L349,131.66L349.25,131.65L349.5,131.65L349.75,131.65L350,131.65L350.25,131.65L350.5,131.65L350.75,131.65L350.8,131.65M357.2,131.65L357.25,131.65L357.5,131.65L357.75,131.65L358,131.65L358.25,131.65L358.5,131.65L358.75,131.65L359,131.65L359.25,131.66L359.5,131.66L359.75,131.66L360,131.66L360.25,131.66L360.5,131.66L360.75,131.66L361,131.66L361.25,131.66L361.5,131.66L361.75,131.66L361.8,131.66M362.6,131.66L362.75,131.66L363,131.66L363.25,131.66L363.5,131.67L363.75,131.67L364,131.67L364.25,131.67L364.5,131.67L364.75,131.67L365,131.67L365.25,131.67L365.5,131.67L365.75,131.67L366,131.67L366.25,131.67L366.5,131.68L366.75,131.68L366.8,131.68"/>
</g>
<g stroke="#ba7aff">
<path stroke-width="1.0" stroke-linejoin="miter" d="M69.05,235.98L69.75,237.74L70.3,238.12L70.74,237L71.29,237.69L71.87,238.02L72.48,237.12L72.97,238.15L73.48,237.35L74.1,237.25L74.6,237.59L75.36,234.42L75.94,238.11L76.21,237.13L76.96,237.95L77.47,234.49L78.12,237.55L78.6,230.08L79.11,236.92L79.71,227.6L80.17,234.89L80.81,230.86L81.4,233.71L81.84,229.68L82.53,233.43L83.04,227.08L83.65,231.53L83.95,227.5L84.61,229.05L85.28,225.61L85.74,230.35L86.36,223.3L86.94,227.41L87.26,221.73L87.82,225.15L88.56,218.78L89.12,223.68L89.63,219.56L90.05,224.28L90.64,218.49L91.23,218.9L91.75,215.96L92.29,218L92.83,215.79L93.51,215.16"/>
<path d="M94.12,214.29L94.3,214.04L94.8,213.33L95.3,212.62L95.56,212.25M97.4,209.62L97.8,209.06L98.3,208.35L98.8,207.64L98.84,207.58M100.69,204.95L100.8,204.79L101.3,204.08L101.8,203.37L102.13,202.91M103.97,200.28L104.3,199.82L104.8,199.11L105.3,198.4L105.41,198.24M107.26,195.61L107.3,195.55L107.8,194.84L108.3,194.13L108.7,193.57M110.54,190.94L110.8,190.57L111.3,189.86L111.8,189.15L111.98,188.9M113.83,186.27L114.3,185.6L114.8,184.89L115.27,184.23M117.11,181.6L117.3,181.33L117.8,180.62L118.3,179.91L118.55,179.55M120.4,176.93L120.8,176.35L121.3,175.64L121.8,174.93L121.83,174.88M123.68,172.26L123.8,172.09L124.3,171.38L124.8,170.67L125.12,170.21M126.97,167.59L127.3,167.11L127.8,166.4L128.3,165.69L128.4,165.54M130.25,162.92L130.3,162.85L130.8,162.13L131.3,161.42L131.69,160.87M133.53,158.25L133.8,157.87L134.3,157.16L134.8,156.45L134.97,156.2M136.82,153.58L137.3,152.89L137.8,152.18L138.26,151.53M140.1,148.9L140.3,148.63L140.8,147.91L141.3,147.2L141.54,146.86M143.39,144.23L143.8,143.65L144.3,142.94L144.8,142.23L144.83,142.19M146.67,139.56L146.8,139.38L147.3,138.67L147.8,137.96L148.11,137.52M149.96,134.89L150.3,134.41L150.8,133.69L151.3,132.98L151.4,132.85M153.24,130.22L153.3,130.14L153.8,129.43L154.3,128.72L154.68,128.18M156.53,125.55L156.8,125.16L157.3,124.45L157.8,123.74L157.97,123.51M159.81,120.88L160.3,120.19L160.8,119.47L161.25,118.84M163.1,116.21L163.3,115.92L163.8,115.21L164.3,114.5L164.53,114.16M166.38,111.54L166.8,110.94L167.3,110.23L167.8,109.52L167.82,109.49M169.67,106.87L169.8,106.68L170.3,105.97L170.8,105.25L171.1,104.82M172.95,102.2L173.3,101.7L173.8,100.99L174.3,100.28L174.39,100.15M176.23,97.53L176.3,97.43L176.8,96.72L177,96.44L177.25,96.08L177.5,95.72L177.67,95.48M179.51,92.85L179.75,92.5L180,92.14L180.25,91.79L180.5,91.43L180.75,91.07L180.94,90.8M182.8,88.18L183,87.91L183.25,87.56L183.5,87.21L183.75,86.87L184,86.52L184.25,86.18L184.27,86.16M186.18,83.58L186.25,83.49L186.5,83.16L186.75,82.83L187,82.5L187.25,82.17L187.5,81.84L187.69,81.59M189.67,79.07L189.75,78.97L190,78.66L190.25,78.35L190.5,78.04L190.75,77.73L191,77.43L191.25,77.12M193.31,74.67L193.5,74.45L193.75,74.16L194,73.88L194.25,73.59L194.5,73.31L194.75,73.02L194.96,72.79M197.12,70.41L197.25,70.28L197.5,70.01L197.75,69.75L198,69.48M198,69.48L198.25,69.22L198.5,68.96L198.75,68.69L199,68.43L199.25,68.18L199.28,68.15M201.38,66.01L201.5,65.9L201.75,65.65L202,65.41L202.25,65.16L202.5,64.92L202.75,64.69L203,64.45L203.19,64.28M205.48,62.34L205.5,62.32L205.75,62.13L206,61.95L206.25,61.77L206.5,61.6L206.75,61.43L207,61.26L207.25,61.11L207.5,60.95L207.54,60.93M210.21,59.57L210.25,59.56L210.5,59.46L210.75,59.36L211,59.27L211.25,59.18L211.5,59.1L211.75,59.02L212,58.95L212.25,58.88L212.5,58.81L212.58,58.79M215.54,58.32L215.75,58.31L216,58.3L216.25,58.3L216.5,58.3L216.75,58.3L217,58.31L217.25,58.33L217.5,58.35L217.75,58.38L218,58.41L218.03,58.41M220.94,59.14L221,59.16L221.25,59.25L221.5,59.35L221.75,59.45L222,59.56L222.25,59.67L222.5,59.78L222.75,59.9L223,60.02L223.23,60.13M225.82,61.65L226,61.77L226.25,61.94L226.5,62.12L226.75,62.3L227,62.48L227.25,62.66L227.5,62.85L227.75,63.04L227.84,63.12M230.15,65.04L230.25,65.13L230.5,65.36L230.75,65.58L231,65.81L231.25,66.04L231.5,66.27L231.75,66.5L231.99,66.73M234.11,68.84L234.25,68.99L234.5,69.25L234.75,69.53L235,69.8L235.25,70.08L235.5,70.36L235.75,70.65L235.79,70.7M237.71,73L237.75,73.04L238,73.35L238.25,73.66L238.5,73.97L238.75,74.28L239,74.6L239.25,74.91L239.28,74.95M241.14,77.3L241.25,77.43L241.5,77.75L241.75,78.06L242,78.38L242.25,78.69L242.5,79.01L242.7,79.26M244.57,81.6L244.75,81.83L245,82.15L245.25,82.46L245.5,82.78L245.75,83.1L246,83.41L246.12,83.56M247.97,85.93L248,85.97L248.25,86.3L248.5,86.62L248.75,86.95L249,87.28L249.25,87.61L249.48,87.92M251.28,90.32L251.5,90.63L251.75,90.97L252,91.32L252.25,91.66L252.5,92.01L252.74,92.35M254.47,94.8L254.5,94.84L254.75,95.19L255,95.56L255.25,95.92L255.5,96.28L255.75,96.64L255.89,96.85M257.59,99.33L257.75,99.55L258,99.91L258.25,100.27L258.5,100.63L258.75,100.98L259,101.34L259.03,101.37M260.78,103.81L261,104.11L261.25,104.45L261.5,104.79L261.75,105.13L262,105.47L262.25,105.81L262.26,105.82M264.04,108.24L264.25,108.52L264.5,108.86L264.75,109.2L265,109.55L265.25,109.89L265.5,110.23L265.52,110.25M267.27,112.69L267.5,113.02L267.75,113.37L268,113.73L268.25,114.09L268.5,114.45L268.7,114.74M270.38,117.22L270.5,117.4L270.75,117.77L271,118.14L271.25,118.52L271.5,118.89L271.75,119.27L271.77,119.3M273.45,121.79L273.5,121.87L273.75,122.24L274,122.61L274.25,122.98L274.5,123.35L274.75,123.71L274.85,123.86M276.57,126.32L276.75,126.58L277,126.93L277.25,127.28L277.5,127.64L277.75,127.98L278,128.33L278.02,128.36M279.78,130.78L280,131.08L280.25,131.42L280.5,131.76L280.75,132.1L281,132.43L281.25,132.77L281.27,132.79M283.05,135.2L283.25,135.48L283.5,135.82L283.75,136.17L284,136.52L284.25,136.87L284.5,137.23L284.51,137.24M286.2,139.71L286.25,139.78L286.5,140.15L286.75,140.51L287,140.88L287.25,141.24L287.5,141.6L287.62,141.77M289.38,144.2L289.5,144.36L289.75,144.69L290,145.01L290.25,145.33L290.5,145.64L290.75,145.94L290.93,146.16M292.93,148.4L293,148.49M294.13,149.95L294.25,150.12L294.5,150.51L294.75,150.92L295,151.35L295.25,151.81L295.4,152.1M296.48,154.36L296.5,154.4L296.75,154.95L297,155.5L297.25,156.06L297.5,156.61L297.51,156.64M298.77,159.22L299,159.64L299.25,160.06L299.5,160.45L299.75,160.8L300,161.12L300.15,161.29M302.83,162.9L303,162.96L303.25,163.04L303.5,163.12L303.75,163.23L304,163.35L304.25,163.49L304.5,163.65L304.75,163.83L305,164.03L305.03,164.05M307.47,166.57L307.5,166.63L307.75,167.11L308,167.7L308.25,168.41L308.4,168.88M309.16,171.6L309.25,171.91L309.5,172.8L309.75,173.65L309.85,174M310.55,176.69L310.75,177.64L311,179.03L311.02,179.15M311.49,182.05L311.5,182.12L311.75,183.58L311.94,184.51M312.21,185.69L312.25,185.83L312.5,186.48L312.75,186.71L313,186.47L313.25,185.83L313.33,185.55M314.11,182.23L314.25,181.62L314.5,180.61L314.73,179.81M315.66,177.48L315.75,177.3L316,176.91L316.25,176.61L316.5,176.4L316.75,176.3L317,176.28L317.25,176.33L317.5,176.44L317.56,176.48M319.41,177.88L319.5,177.98L319.75,178.31L320,178.72L320.25,179.2L320.5,179.78L320.6,180.05M321.51,182.99L321.75,183.98L322,185.1L322.07,185.43M322.65,188.27L322.75,188.76L323,189.99L323.16,190.72M323.88,193.56L324,193.93L324.25,194.43L324.5,194.6L324.75,194.4L325,193.9L325.12,193.55M326,190.32L326.25,189.3L326.5,188.32L326.61,187.89M327.32,185.56L327.5,185.07L327.75,184.5L328,184.05L328.25,183.72L328.5,183.48L328.56,183.44M330.6,183.02L330.75,183.02L331,183.04L331.25,183.09L331.5,183.16L331.75,183.27L332,183.42L332.25,183.61L332.5,183.82L332.75,184.07L332.77,184.09M335.36,187.13L335.5,187.26L335.75,187.47L336,187.63L336.25,187.75L336.5,187.82L336.75,187.84L337,187.81L337.25,187.73L337.5,187.63L337.6,187.57M340.27,185.55L340.5,185.41L340.75,185.27L341,185.15L341.25,185.06L341.5,185L341.75,184.97L342,184.96L342.25,184.98L342.5,185.02L342.64,185.05M345.37,185.91L345.5,185.94L345.75,185.99L346,186.04L346.25,186.07L346.5,186.1L346.75,186.12L347,186.13L347.25,186.13L347.5,186.13L347.75,186.12L347.85,186.12M351.55,185.91L351.75,185.91L352,185.91L352.25,185.9L352.5,185.9L352.75,185.9L353,185.9L353.25,185.89L353.5,185.89L353.75,185.89L354,185.89L354.05,185.89M357.55,185.89L357.75,185.89L358,185.89L358.25,185.89L358.5,185.89L358.75,185.89L359,185.9L359.25,185.9L359.5,185.9L359.75,185.9L360,185.9L360.05,185.9M362.95,185.91L363,185.91L363.25,185.91L363.5,185.91L363.75,185.91L364,185.91L364.25,185.91L364.5,185.91L364.75,185.91L365,185.91L365.25,185.91L365.45,185.91M368.35,185.91L368.5,185.91L368.75,185.91L369,185.91L369.25,185.91L369.5,185.91L369.75,185.91L370,185.91L370.25,185.91L370.5,185.9L370.75,185.9L370.85,185.9"/>
</g>
</g>
<path d="M61.3,238.6 V240.5" stroke="#ff0000" stroke-width="0.9" fill="none"/>
<path d="M58.2,234.4 L59.4,236.2" stroke="#ff0000" stroke-width="0.7" fill="none" opacity="0.7"/>
<path d="M74.5,238.6 V240.5" stroke="#0000ff" stroke-width="0.9" fill="none"/>
<g fill="none" stroke-width="1.62">
<path stroke="#ff0000" d="M131,34.5 H160.8"/>
<path stroke="#228b22" d="M131,45.4 H140 M144.1,45.4 H153 M157.2,45.4 H160.8"/>
<path stroke="#0000ff" d="M131,56.2 H135.9 M142,56.2 H146.7 M152.9,56.2 H157.6"/>
<path stroke="#ba7aff" d="M130.7,67.1 h2.6M136.2,67.1 h2.6M141.7,67.1 h2.6M147.2,67.1 h2.6M152.6,67.1 h2.6M158.1,67.1 h2.6"/>
</g>
<g stroke="#000" stroke-width="1" fill="none">
<path d="M59.5,12.45 V238.35 H372.9 V12.95 H59.5" stroke-linejoin="miter"/>
<path d="M98.67,238.35 v-3.5 M98.67,12.95 v3.5 M137.85,238.35 v-3.5 M137.85,12.95 v3.5 M177.02,238.35 v-3.5 M177.02,12.95 v3.5 M216.2,238.35 v-3.5 M216.2,12.95 v3.5 M255.38,238.35 v-3.5 M255.38,12.95 v3.5 M294.55,238.35 v-3.5 M294.55,12.95 v3.5 M333.72,238.35 v-3.5 M333.72,12.95 v3.5 M59.5,29.05 h1.8 M372.9,29.05 h-1.8 M59.5,45.15 h3.5 M372.9,45.15 h-3.5 M59.5,61.25 h1.8 M372.9,61.25 h-1.8 M59.5,77.35 h3.5 M372.9,77.35 h-3.5 M59.5,93.45 h1.8 M372.9,93.45 h-1.8 M59.5,109.55 h3.5 M372.9,109.55 h-3.5 M59.5,125.65 h1.8 M372.9,125.65 h-1.8 M59.5,141.75 h3.5 M372.9,141.75 h-3.5 M59.5,157.85 h1.8 M372.9,157.85 h-1.8 M59.5,173.95 h3.5 M372.9,173.95 h-3.5 M59.5,190.05 h1.8 M372.9,190.05 h-1.8 M59.5,206.15 h3.5 M372.9,206.15 h-3.5 M59.5,222.25 h1.8 M372.9,222.25 h-1.8 "/>
</g>
<clipPath id="txt" style="font-family:'Liberation Serif',serif;font-size:10.67px">
<text x="59.5" y="253" text-anchor="middle">-4</text>
<text x="98.67" y="253" text-anchor="middle">-3</text>
<text x="137.85" y="253" text-anchor="middle">-2</text>
<text x="177.02" y="253" text-anchor="middle">-1</text>
<text x="217.53" y="253" text-anchor="middle">0</text>
<text x="256.7" y="253" text-anchor="middle">1</text>
<text x="295.88" y="253" text-anchor="middle">2</text>
<text x="335.05" y="253" text-anchor="middle">3</text>
<text x="374.23" y="253" text-anchor="middle">4</text>
<text x="52.9" y="18.2" text-anchor="end">10<tspan font-size="8.53" dy="-5.4">-4</tspan></text>
<text x="52.9" y="50.34" text-anchor="end">10<tspan font-size="8.53" dy="-5.4">-6</tspan></text>
<text x="52.9" y="82.48" text-anchor="end">10<tspan font-size="8.53" dy="-5.4">-8</tspan></text>
<text x="52.9" y="114.62" text-anchor="end">10<tspan font-size="8.53" dy="-5.4">-10</tspan></text>
<text x="52.9" y="146.76" text-anchor="end">10<tspan font-size="8.53" dy="-5.4">-12</tspan></text>
<text x="52.9" y="178.9" text-anchor="end">10<tspan font-size="8.53" dy="-5.4">-14</tspan></text>
<text x="52.9" y="211.04" text-anchor="end">10<tspan font-size="8.53" dy="-5.4">-16</tspan></text>
<text x="52.9" y="243.18" text-anchor="end">10<tspan font-size="8.53" dy="-5.4">-18</tspan></text>
<text x="216.2" y="268.4" text-anchor="middle">t [fm/c]</text>
<text x="124.2" y="38.4" text-anchor="end">p=0.5 GeV</text>
<text x="124.2" y="49.3" text-anchor="end">p=1.0 GeV</text>
<text x="124.2" y="60.3" text-anchor="end">p=1.5 GeV</text>
<text x="124.2" y="71.2" text-anchor="end">p=2.0 GeV</text>
<text transform="translate(20.8,160.0) rotate(-90)">d<tspan font-size="8.53" dy="-5.4">6</tspan><tspan dy="5.4">n</tspan><tspan font-size="8.53" dy="3.2">qq</tspan><tspan dy="-3.2" dx="2.0">(t)/d</tspan><tspan font-size="8.53" dy="-5.4">3</tspan><tspan dy="5.4">xd</tspan><tspan font-size="8.53" dy="-5.4">3</tspan><tspan dy="5.4">p</tspan></text>
</clipPath>
<rect x="0" y="0" width="389" height="273" fill="#000" clip-path="url(#txt)"/>
<path d="M15.2,138.6 V134.1" stroke="#000" stroke-width="1" fill="none"/>
</svg>
</body></html>
